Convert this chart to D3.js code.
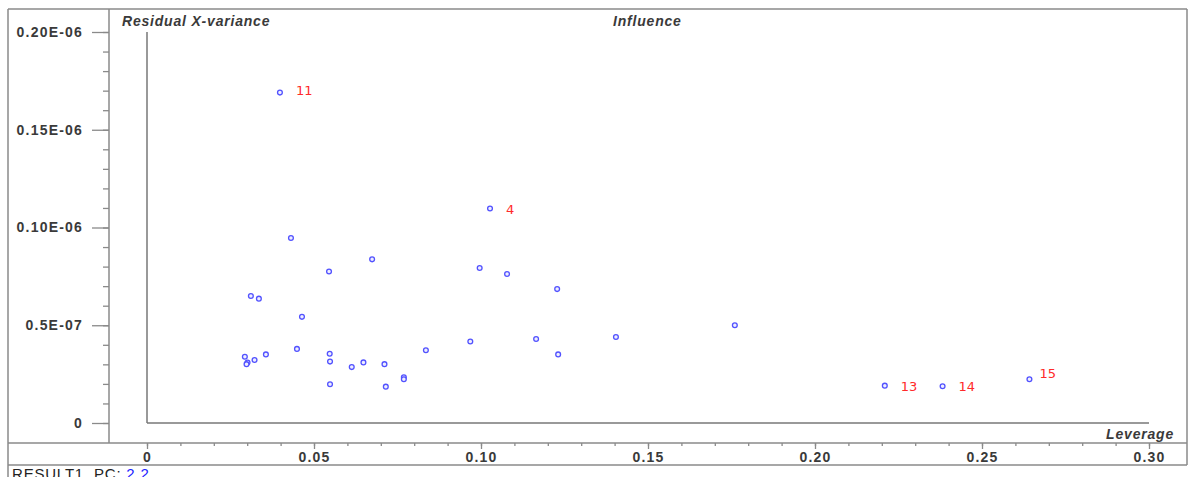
<!DOCTYPE html>
<html>
<head>
<meta charset="utf-8">
<script src="https://cdn.jsdelivr.net/npm/d3@7"></script>
<style>
  body { margin: 0; background: #fff; }
  text { font-family: "Liberation Sans", Arial, sans-serif; }
</style>
</head>
<body>
<script type="text/javascript">
var w = 1189;
var h = 477;

// leverage (x) and residual X-variance (y) per sample
var leverage = [0.0398, 0.1027, 0.0431, 0.0545, 0.0674, 0.0311, 0.0335, 0.0464, 0.0449, 0.0356,
                0.0293, 0.0322, 0.0301, 0.0298, 0.0547, 0.0548, 0.0548, 0.0613, 0.0648, 0.0711,
                0.0715, 0.0769, 0.0769, 0.0835, 0.0968, 0.0996, 0.1078, 0.1228, 0.1165, 0.1231,
                0.1404, 0.1760, 0.2209, 0.2382, 0.2642];
var residual = [1.690e-7, 1.097e-7, 0.946e-7, 0.775e-7, 0.837e-7, 0.650e-7, 0.636e-7, 0.543e-7, 0.379e-7, 0.351e-7,
                0.339e-7, 0.322e-7, 0.309e-7, 0.301e-7, 0.354e-7, 0.314e-7, 0.198e-7, 0.286e-7, 0.310e-7, 0.301e-7,
                0.186e-7, 0.234e-7, 0.224e-7, 0.372e-7, 0.417e-7, 0.793e-7, 0.762e-7, 0.685e-7, 0.430e-7, 0.351e-7,
                0.440e-7, 0.500e-7, 0.191e-7, 0.188e-7, 0.224e-7];
var sampleLabel = ["11", "4", "", "", "", "", "", "", "", "",
                   "", "", "", "", "", "", "", "", "", "",
                   "", "", "", "", "", "", "", "", "", "",
                   "", "", "13", "14", "15"];

var yTicks = [0, 0.5e-7, 1.0e-7, 1.5e-7, 2.0e-7];
var yTickLabels = ["0", "0.5E-07", "0.10E-06", "0.15E-06", "0.20E-06"];
var xTicks = [0, 0.05, 0.10, 0.15, 0.20, 0.25, 0.30];
var xTickLabels = ["0", "0.05", "0.10", "0.15", "0.20", "0.25", "0.30"];

var Xscale = d3.scaleLinear().domain([0, 0.30]).range([147, 1149]);
var Yscale = d3.scaleLinear().domain([0, 2.0e-7]).range([423, 32]);

const svg = d3.select("body").append("svg").attr('width', w).attr('height', h);
var frameColor = '#8a8a8a';
var textColor = '#3a3a3a';

// OUTER FRAME
svg.append('line').attr('x1', 8).attr('x2', 1187).attr('y1', 9).attr('y2', 9).attr('stroke', frameColor).attr('stroke-width', 1.5);
svg.append('line').attr('x1', 8).attr('x2', 8).attr('y1', 9).attr('y2', 477).attr('stroke', frameColor).attr('stroke-width', 1.5);
svg.append('line').attr('x1', 1187).attr('x2', 1187).attr('y1', 9).attr('y2', 465).attr('stroke', frameColor).attr('stroke-width', 1.5);
svg.append('line').attr('x1', 8).attr('x2', 1187).attr('y1', 465).attr('y2', 465).attr('stroke', frameColor).attr('stroke-width', 1.5);

// Y AXIS (major + minor ticks)
var yMinor = d3.range(0, 21).map(function(i){ return i * 1e-8; });
var yMinorAxis = svg.append('g').attr('transform', 'translate(109,0)')
  .call(d3.axisLeft(Yscale).tickValues(yMinor).tickSize(6).tickFormat(''));
var yAxis = svg.append('g').attr('transform', 'translate(109,0)')
  .call(d3.axisLeft(Yscale).tickValues(yTicks).tickSize(17).tickPadding(9)
    .tickFormat(function(d, i){ return yTickLabels[i]; }));
yMinorAxis.select('.domain').remove();
yAxis.select('.domain').remove();
svg.append('line').attr('x1', 109).attr('x2', 109).attr('y1', 9).attr('y2', 443).attr('stroke', frameColor).attr('stroke-width', 1.5);

// X AXIS STRIP
var xMinor = d3.range(0, 31).map(function(i){ return i / 100; });
var xMinorAxis = svg.append('g').attr('transform', 'translate(0,443)')
  .call(d3.axisBottom(Xscale).tickValues(xMinor).tickSize(3).tickFormat(''));
var xAxis = svg.append('g').attr('transform', 'translate(0,443)')
  .call(d3.axisBottom(Xscale).tickValues(xTicks).tickSize(6).tickPadding(3)
    .tickFormat(function(d, i){ return xTickLabels[i]; }));
xMinorAxis.select('.domain').remove();
xAxis.select('.domain').remove();
svg.append('line').attr('x1', 8).attr('x2', 1187).attr('y1', 443).attr('y2', 443).attr('stroke', frameColor).attr('stroke-width', 1.5);

svg.selectAll('.tick line').attr('stroke', frameColor).attr('stroke-width', 1.3);
svg.selectAll('.tick text').attr('fill', textColor).style('font-size', '14px')
  .style('font-weight', 'bold').style('letter-spacing', '1.2px')
  .style('font-family', '"Liberation Sans", Arial, sans-serif');

// INNER PLOT FRAME
svg.append('line').attr('x1', Xscale(0)).attr('x2', Xscale(0)).attr('y1', Yscale(2.0e-7)).attr('y2', Yscale(0)).attr('stroke', '#777').attr('stroke-width', 1.5);
svg.append('line').attr('x1', Xscale(0)).attr('x2', Xscale(0.30)).attr('y1', Yscale(0)).attr('y2', Yscale(0)).attr('stroke', '#777').attr('stroke-width', 1.5);

// TITLES
function title(x, y, txt, anchor) {
  svg.append('text').attr('x', x).attr('y', y).attr('text-anchor', anchor).text(txt)
    .attr('fill', textColor).style('font-size', '14px').style('font-weight', 'bold')
    .style('font-style', 'italic').style('letter-spacing', '0.8px');
}
title(122, 26, 'Residual X-variance', 'start');
title(613, 26, 'Influence', 'start');
title(1174, 439, 'Leverage', 'end');

// FOOTER
var foot = svg.append('text').attr('x', 12).attr('y', 479).style('font-size', '15px')
  .style('letter-spacing', '0.8px').attr('fill', '#222');
foot.append('tspan').text('RESULT1, PC: ');
foot.append('tspan').text('2,2').attr('fill', '#2222ff');

// DRAW THE SAMPLES
var idx = d3.range(leverage.length);
svg.append('g').selectAll('circle').data(idx).enter().append('circle')
  .attr('cx', function(i){ return Xscale(leverage[i]); })
  .attr('cy', function(i){ return Yscale(residual[i]); })
  .attr('r', 2.4)
  .attr('fill', '#eef')
  .attr('stroke', '#5252ff')
  .attr('stroke-width', 1.3);

var labelDy = { "11": 2, "4": 5, "13": 5, "14": 5, "15": -1 };
svg.append('g').selectAll('text').data(idx.filter(function(i){ return sampleLabel[i] != ''; })).enter().append('text')
  .attr('x', function(i){ return Xscale(leverage[i]) + (sampleLabel[i] == '15' ? 10 : 16); })
  .attr('y', function(i){ return Yscale(residual[i]) + labelDy[sampleLabel[i]]; })
  .text(function(i){ return sampleLabel[i]; })
  .attr('fill', '#ff2a2a')
  .style('font-family', '"DejaVu Sans", Verdana, sans-serif')
  .style('font-size', '13px');
</script>
</body>
</html>
